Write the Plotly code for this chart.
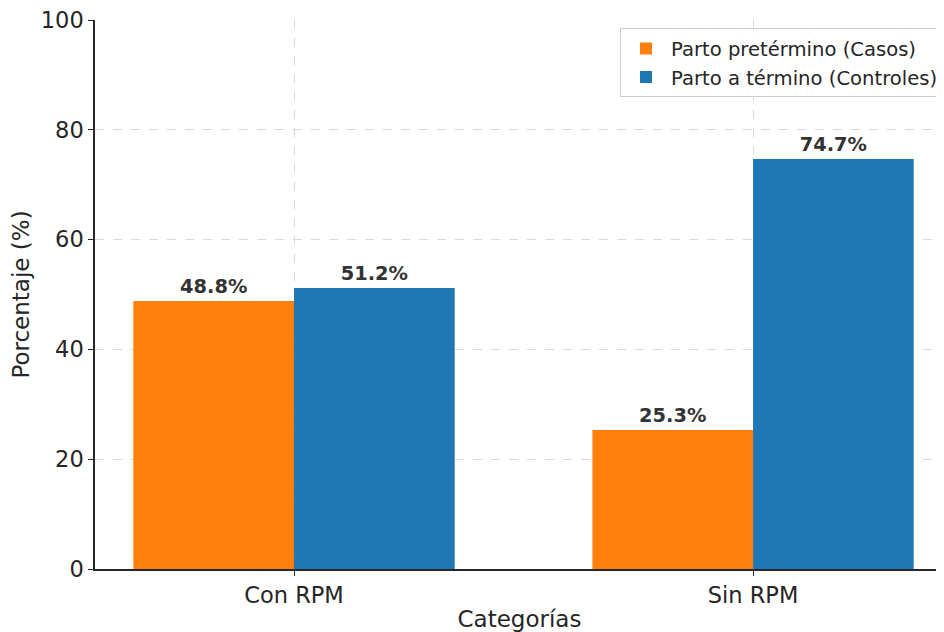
import plotly.graph_objects as go

categories = ["Con RPM", "Sin RPM"]
casos = [48.8, 25.3]
controles = [51.2, 74.7]
series_names = ["Parto pretérmino (Casos)", "Parto a término (Controles)"]
yticks = [0, 20, 40, 60, 80, 100]

xpos = list(range(len(categories)))
font_family = "DejaVu Sans"
txt_color = "#262626"

fig = go.Figure()
for name, vals, color in [(series_names[0], casos, "#ff7f0e"), (series_names[1], controles, "#1f77b4")]:
    fig.add_trace(go.Bar(
        x=xpos, y=vals, name=name, marker=dict(color=color, line=dict(width=0)),
        text=[f"{v:.1f}%" for v in vals], textposition="outside", cliponaxis=False,
        textfont=dict(family=font_family, size=19.4, color="#333333", weight="bold"),
    ))

# page body has an 8px margin, so the figure is 8px smaller and shifted
fig.update_layout(
    width=936, height=624,
    margin=dict(l=87, r=0, t=12, b=63),
    paper_bgcolor="white", plot_bgcolor="white",
    barmode="group", bargap=0.3, bargroupgap=0,
    font=dict(family=font_family, color=txt_color),
    legend=dict(x=1.0, y=0.985, xanchor="right", yanchor="top",
                bordercolor="#cccccc", borderwidth=1, bgcolor="rgba(255,255,255,0.8)",
                font=dict(size=19.6, color=txt_color), itemwidth=40),
)
fig.update_xaxes(
    range=[-0.4336, 1.416], tickvals=xpos, ticktext=categories,
    showgrid=True, gridcolor="#d9d9d9", griddash="dash", gridwidth=1,
    showline=True, linecolor="#262626", linewidth=1.5,
    ticks="outside", ticklen=5, tickcolor="#262626",
    tickfont=dict(size=22.5), zeroline=False, ticklabeloverflow="allow",
    title=dict(text="Categorías", font=dict(size=23), standoff=4),
)
fig.update_yaxes(
    range=[0, 100], tickvals=yticks,
    showgrid=True, gridcolor="#d9d9d9", griddash="dash", gridwidth=1,
    showline=True, linecolor="#262626", linewidth=1.5,
    ticks="outside", ticklen=5, tickcolor="#262626",
    tickfont=dict(size=22.5), zeroline=False, ticklabeloverflow="allow",
    title=dict(text="Porcentaje (%)", font=dict(size=23), standoff=18),
)

fig.write_html("out.html")
